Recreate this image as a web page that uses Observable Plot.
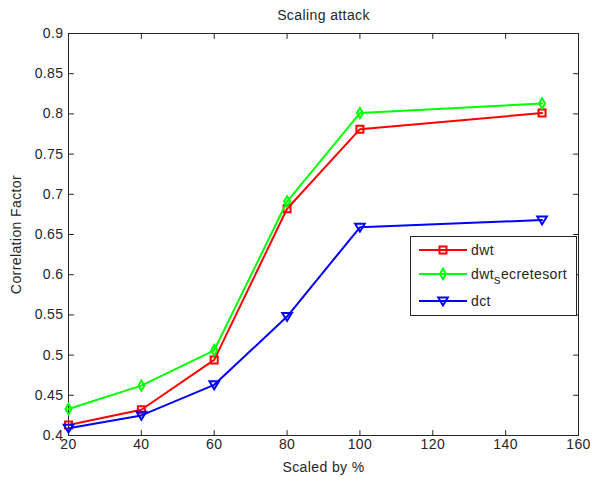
<!DOCTYPE html>
<html><head><meta charset="utf-8">
<script src="https://cdn.jsdelivr.net/npm/d3@7"></script>
<script src="https://cdn.jsdelivr.net/npm/@observablehq/plot@0.6"></script>
<style>
html,body{margin:0;padding:0;background:#fff;}
#chart{width:592px;height:482px;}
</style></head><body><div id="chart"></div>
<script>
const scaledBy = [20, 40, 60, 80, 100, 150];
const seriesNames = ["dwt", "dwt_secretesort", "dct"];
const dwt = [0.413, 0.432, 0.494, 0.682, 0.781, 0.801];
const dwtSecretesort = [0.433, 0.462, 0.506, 0.691, 0.801, 0.813];
const dct = [0.409, 0.425, 0.463, 0.548, 0.659, 0.668];
const xTicks = [20, 40, 60, 80, 100, 120, 140, 160];
const yTicks = [0.4, 0.45, 0.5, 0.55, 0.6, 0.65, 0.7, 0.75, 0.8, 0.85, 0.9];
const titleText = "Scaling attack";
const xLabel = "Scaled by %";
const yLabel = "Correlation Factor";
const colors = ["#ff0000", "#00ff00", "#0000ff"];

const seriesValues = [dwt, dwtSecretesort, dct];
const symSquare = {draw(c){c.moveTo(-3.5,-3.5);c.lineTo(3.5,-3.5);c.lineTo(3.5,3.5);c.lineTo(-3.5,3.5);c.closePath();}};
const symDiamond = {draw(c){c.moveTo(0,-5.2);c.lineTo(3,0);c.lineTo(0,5.2);c.lineTo(-3,0);c.closePath();}};
const symTriDown = {draw(c){c.moveTo(-4.8,-3.6);c.lineTo(4.8,-3.6);c.lineTo(0,4.4);c.closePath();}};
const symbols = [symSquare, symDiamond, symTriDown];

const rows = seriesNames.flatMap((name, i) => scaledBy.map((x, j) => ({series: name, x, y: seriesValues[i][j]})));

const ink = "#262626";
const font = "'Liberation Sans', Arial, sans-serif";
const fmtY = d => String(+d.toFixed(2));
const tickShape = {draw(c, l){c.moveTo(0, 0); c.lineTo(0, -l);}};
const innerTicks = (vals, ch, frameAnchor, rotate) =>
  Plot.vector(vals, {[ch]: d => d, frameAnchor, rotate, length: 5, anchor: "start", shape: tickShape, stroke: ink, strokeWidth: 1});

const seriesMarks = seriesNames.flatMap((name, i) => {
  const d = rows.filter(r => r.series === name);
  return [
    Plot.line(d, {x: "x", y: "y", stroke: colors[i], strokeWidth: 2}),
    Plot.dot(d, {x: "x", y: "y", stroke: colors[i], strokeWidth: 2, fill: "none", symbol: symbols[i], r: 4})
  ];
});

const chart = Plot.plot({
  width: 592, height: 482,
  marginLeft: 68, marginRight: 14, marginTop: 33, marginBottom: 47,
  x: {domain: [20, 160]},
  y: {domain: [0.4, 0.9]},
  style: {fontFamily: font, fontSize: "14px", color: ink, background: "white", letterSpacing: "0.4px"},
  marks: [
    Plot.frame({stroke: ink}),
    Plot.axisX(xTicks, {anchor: "bottom", tickSize: 0, tickPadding: 4, tickFormat: d => String(d), label: null, fontSize: 14}),
    Plot.axisY(yTicks, {anchor: "left", tickSize: 0, tickPadding: 5, tickFormat: fmtY, label: null, fontSize: 14}),
    innerTicks(xTicks, "x", "bottom", 0),
    innerTicks(xTicks, "x", "top", 180),
    innerTicks(yTicks, "y", "left", 90),
    innerTicks(yTicks, "y", "right", -90),
    ...seriesMarks,
    Plot.text([titleText], {text: d => d, frameAnchor: "top", dy: -18, lineAnchor: "middle", fontSize: 14, fill: ink}),
    Plot.text([xLabel], {text: d => d, frameAnchor: "bottom", dy: 32, lineAnchor: "middle", fontSize: 14, fill: ink}),
    Plot.text([yLabel], {text: d => d, frameAnchor: "left", dx: -52, rotate: -90, textAnchor: "middle", lineAnchor: "middle", fontSize: 14, fill: ink})
  ]
});

// legend inside the plot area
const svg = d3.select(chart);
const lg = svg.append("g").attr("font-family", font).attr("font-size", 14)
  .attr("letter-spacing", "0.4px").attr("text-anchor", "start");
lg.append("rect").attr("x", 410.5).attr("y", 236.5).attr("width", 166).attr("height", 79)
  .attr("fill", "white").attr("stroke", ink);
const entryY = [250, 274, 301];
seriesNames.forEach((name, i) => {
  const y = entryY[i];
  lg.append("line").attr("x1", 419).attr("x2", 467).attr("y1", y).attr("y2", y)
    .attr("stroke", colors[i]).attr("stroke-width", 2);
  lg.append("path").attr("transform", `translate(443,${y})`)
    .attr("d", d3.symbol(symbols[i])())
    .attr("fill", "none").attr("stroke", colors[i]).attr("stroke-width", 2);
  const t = lg.append("text").attr("x", 471).attr("y", y).attr("dy", "0.35em")
    .attr("fill", ink).attr("text-anchor", "start");
  const parts = name.split("_");
  if (parts.length === 2) {
    t.append("tspan").text(parts[0]);
    t.append("tspan").attr("dy", 5).attr("font-size", 13).text(parts[1][0]);
    t.append("tspan").attr("dy", -5).text(parts[1].slice(1));
  } else {
    t.text(name);
  }
});

document.getElementById("chart").appendChild(chart);
</script></body></html>
